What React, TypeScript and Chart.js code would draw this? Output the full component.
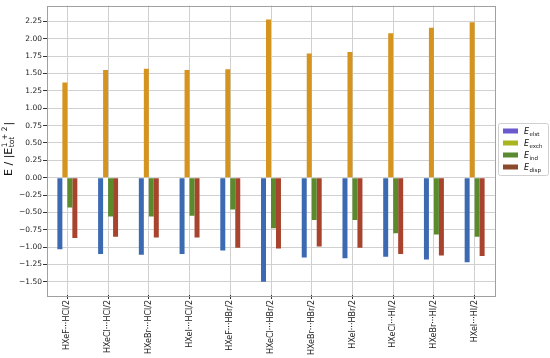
import React, { useEffect, useRef } from 'react';
import { Chart, registerables } from 'chart.js';
Chart.register(...registerables);

const categories = [
  'HXeF···HCl/2', 'HXeCl···HCl/2', 'HXeBr···HCl/2', 'HXeI···HCl/2',
  'HXeF···HBr/2', 'HXeCl···HBr/2', 'HXeBr···HBr/2', 'HXeI···HBr/2',
  'HXeCl···HI/2', 'HXeBr···HI/2', 'HXeI···HI/2',
];
const elst = [-1.03, -1.10, -1.11, -1.10, -1.05, -1.50, -1.15, -1.16, -1.14, -1.18, -1.22];
const exch = [1.37, 1.55, 1.57, 1.55, 1.56, 2.28, 1.79, 1.81, 2.08, 2.16, 2.24];
const ind = [-0.43, -0.56, -0.56, -0.55, -0.46, -0.73, -0.61, -0.61, -0.80, -0.82, -0.85];
const disp = [-0.87, -0.85, -0.86, -0.86, -1.01, -1.02, -0.99, -1.01, -1.10, -1.12, -1.13];
const seriesNames = ['elst', 'exch', 'ind', 'disp'];
const yTickValues = [-1.5, -1.25, -1.0, -0.75, -0.5, -0.25, 0, 0.25, 0.5, 0.75, 1.0, 1.25, 1.5, 1.75, 2.0, 2.25];

const barColors = ['#3b69b2', '#d4941e', '#5b8a2c', '#a8432e'];
const legendColors = ['#6a5acd', '#a9b51f', '#5a8a30', '#8c4a2c'];
const FONT = 'DejaVu Sans';

const decorPlugin = {
  id: 'decor',
  afterDraw(chart: any) {
    const ctx = chart.ctx;
    const a = chart.chartArea;
    ctx.save();
    // frame
    ctx.strokeStyle = '#a0a0a0';
    ctx.lineWidth = 1;
    ctx.setLineDash([]);
    ctx.strokeRect(Math.round(a.left) + 0.5, Math.round(a.top) + 0.5, Math.round(a.right - a.left), Math.round(a.bottom - a.top));
    // y title
    ctx.fillStyle = '#111';
    ctx.translate(11.5, 176);
    ctx.rotate(-Math.PI / 2);
    ctx.textBaseline = 'alphabetic';
    ctx.textAlign = 'left';
    ctx.font = `11px "${FONT}"`;
    let x = 0;
    const t1 = 'E / |E';
    ctx.fillText(t1, x, 0);
    x += ctx.measureText(t1).width;
    ctx.font = `7.5px "${FONT}"`;
    const sup = '1 + 2';
    const sub = 'tot';
    ctx.fillText(sup, x + 0.5, -5);
    ctx.fillText(sub, x + 0.5, 2.5);
    x += Math.max(ctx.measureText(sup).width, ctx.measureText(sub).width) + 1.5;
    ctx.font = `11px "${FONT}"`;
    ctx.fillText('|', x, 0);
    ctx.restore();

    // legend
    ctx.save();
    const lx = 498, ly = 123, lw = 50, lh = 52;
    ctx.fillStyle = 'rgba(255,255,255,0.9)';
    ctx.strokeStyle = '#d0d0d0';
    ctx.lineWidth = 1;
    ctx.beginPath();
    if (ctx.roundRect) ctx.roundRect(lx + 0.5, ly + 0.5, lw, lh, 2); else ctx.rect(lx + 0.5, ly + 0.5, lw, lh);
    ctx.fill();
    ctx.stroke();
    seriesNames.forEach((name, i) => {
      const cy = 131 + i * 12;
      ctx.fillStyle = legendColors[i];
      ctx.fillRect(503, cy - 2.5, 15, 5);
      ctx.fillStyle = '#111';
      ctx.textBaseline = 'alphabetic';
      ctx.font = `italic 8px "${FONT}"`;
      ctx.fillText('E', 524, cy + 3);
      const w = ctx.measureText('E').width;
      ctx.font = `5.5px "${FONT}"`;
      ctx.fillText(name, 524 + w + 0.5, cy + 5);
    });
    ctx.restore();
  },
};

export default function App() {
  const ref = useRef<HTMLCanvasElement>(null);
  useEffect(() => {
    const canvas = ref.current!;
    const data = [elst, exch, ind, disp];
    const chart = new Chart(canvas, {
      type: 'bar',
      data: {
        labels: categories,
        datasets: data.map((d, i) => ({
          label: seriesNames[i],
          data: d,
          backgroundColor: barColors[i],
          borderWidth: 0,
          barPercentage: 1.0,
          categoryPercentage: 0.49,
        })),
      },
      options: {
        animation: false,
        responsive: false,
        maintainAspectRatio: false,
        layout: { padding: { left: 0, top: 3, right: 55, bottom: 0 } },
        plugins: { legend: { display: false }, tooltip: { enabled: false } },
        scales: {
          x: {
            offset: true,
            grid: {
              offset: false,
              color: '#d0d0d0',
              borderDash: [3, 3],
              tickColor: '#333',
              tickLength: 4,
              tickBorderDash: [],
            },
            border: { display: false },
            ticks: {
              autoSkip: false,
              minRotation: 90,
              maxRotation: 90,
              padding: 1,
              color: '#222',
              font: { family: FONT, size: 8 },
            },
            afterFit(s: any) { s.height = 63; },
          },
          y: {
            min: -1.69,
            max: 2.48,
            afterBuildTicks(s: any) { s.ticks = yTickValues.map((v) => ({ value: v })); },
            grid: {
              color: '#d0d0d0',
              borderDash: [3, 3],
              tickColor: '#333',
              tickLength: 4,
              tickBorderDash: [],
            },
            border: { display: false },
            ticks: {
              padding: 1,
              color: '#222',
              font: { family: FONT, size: 7.5 },
              callback: (v: any) => Number(v).toFixed(2).replace('-', '\u2212'),
            },
            afterFit(s: any) { s.width = 47; },
          },
        },
      },
      plugins: [decorPlugin],
    });
    return () => chart.destroy();
  }, []);
  return (
    <div style={{ position: 'fixed', left: 0, top: 0, width: 550, height: 358, background: '#fff' }}>
      <canvas ref={ref} width={550} height={358} style={{ width: 550, height: 358 }} />
    </div>
  );
}
